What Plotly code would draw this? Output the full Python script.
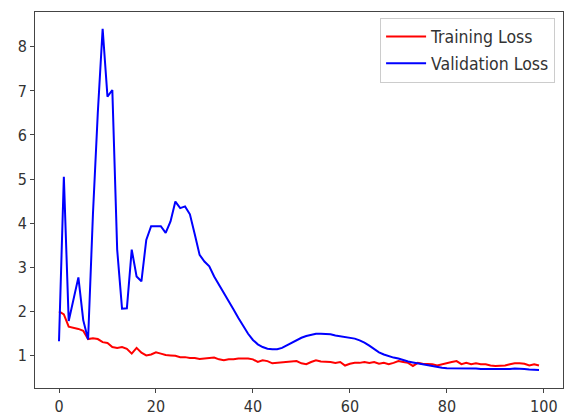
import plotly.graph_objects as go

epochs = list(range(100))

training_loss = [
    2.00, 1.93, 1.65, 1.63, 1.60, 1.56, 1.37, 1.39, 1.37, 1.30,
    1.28, 1.19, 1.17, 1.19, 1.15, 1.04, 1.17, 1.06, 1.00, 1.02,
    1.07, 1.04, 1.01, 1.00, 0.99, 0.96, 0.96, 0.94, 0.94, 0.92,
    0.93, 0.95, 0.95, 0.91, 0.89, 0.91, 0.91, 0.93, 0.93, 0.93,
    0.91, 0.85, 0.89, 0.87, 0.82, 0.83, 0.85, 0.86, 0.87, 0.87,
    0.82, 0.80, 0.85, 0.89, 0.86, 0.86, 0.85, 0.83, 0.85, 0.77,
    0.81, 0.83, 0.83, 0.85, 0.83, 0.85, 0.81, 0.83, 0.80, 0.83,
    0.87, 0.85, 0.83, 0.76, 0.83, 0.81, 0.80, 0.80, 0.77, 0.80,
    0.83, 0.85, 0.87, 0.80, 0.83, 0.80, 0.82, 0.80, 0.80, 0.77,
    0.76, 0.77, 0.77, 0.80, 0.82, 0.82, 0.81, 0.77, 0.80, 0.77,
]

validation_loss = [
    1.32, 5.05, 1.78, 2.27, 2.77, 1.80, 1.36, 4.20, 6.50, 8.41,
    6.87, 7.02, 3.40, 2.06, 2.07, 3.40, 2.79, 2.68, 3.62, 3.93,
    3.93, 3.93, 3.78, 4.04, 4.49, 4.34, 4.38, 4.20, 3.75, 3.28,
    3.13, 3.02, 2.79, 2.61, 2.42, 2.23, 2.04, 1.85, 1.66, 1.49,
    1.35, 1.25, 1.19, 1.15, 1.14, 1.14, 1.17, 1.23, 1.29, 1.35,
    1.40, 1.44, 1.47, 1.49, 1.49, 1.49, 1.48, 1.45, 1.43, 1.42,
    1.40, 1.38, 1.34, 1.29, 1.22, 1.14, 1.07, 1.02, 0.98, 0.95,
    0.93, 0.89, 0.86, 0.84, 0.82, 0.80, 0.77, 0.76, 0.74, 0.72,
    0.71, 0.71, 0.71, 0.71, 0.70, 0.71, 0.70, 0.69, 0.69, 0.68,
    0.68, 0.68, 0.69, 0.69, 0.70, 0.70, 0.69, 0.68, 0.68, 0.67,
]

x_ticks = [0, 20, 40, 60, 80, 100]
y_ticks = [1, 2, 3, 4, 5, 6, 7, 8]

FONT = "DejaVu Sans Condensed, DejaVu Sans, sans-serif"

fig = go.Figure()
fig.add_trace(go.Scatter(x=epochs, y=training_loss, mode="lines", name="Training Loss",
                         legendgroup="a", line=dict(color="#ff0000", width=2)))
fig.add_trace(go.Scatter(x=epochs, y=validation_loss, mode="lines", name="Validation Loss",
                         legendgroup="b", line=dict(color="#0000ff", width=2)))

axis_common = dict(showgrid=False, zeroline=False, showline=True, linecolor="#444",
                   linewidth=1, mirror=True, ticks="outside", ticklen=4, tickcolor="#444",
                   automargin=False,
                   tickfont=dict(family=FONT, size=16, color="#333"))

fig.update_layout(
    width=565, height=418,
    margin=dict(l=35, r=2, t=12, b=30),
    paper_bgcolor="white", plot_bgcolor="white",
    xaxis=dict(range=[-4.95, 103.95], tickvals=x_ticks, **axis_common),
    yaxis=dict(range=[0.26, 8.79], tickvals=y_ticks, **axis_common),
    legend=dict(x=0.985, y=0.985, xanchor="right", yanchor="top",
                bgcolor="white", bordercolor="#cccccc", borderwidth=1,
                font=dict(family=FONT, size=17.5, color="#333"),
                itemwidth=40, tracegroupgap=1),
    showlegend=True,
)

fig.write_html("out.html", config={"displayModeBar": False},
               post_script="document.body.style.margin='0';document.body.style.padding='0';")
